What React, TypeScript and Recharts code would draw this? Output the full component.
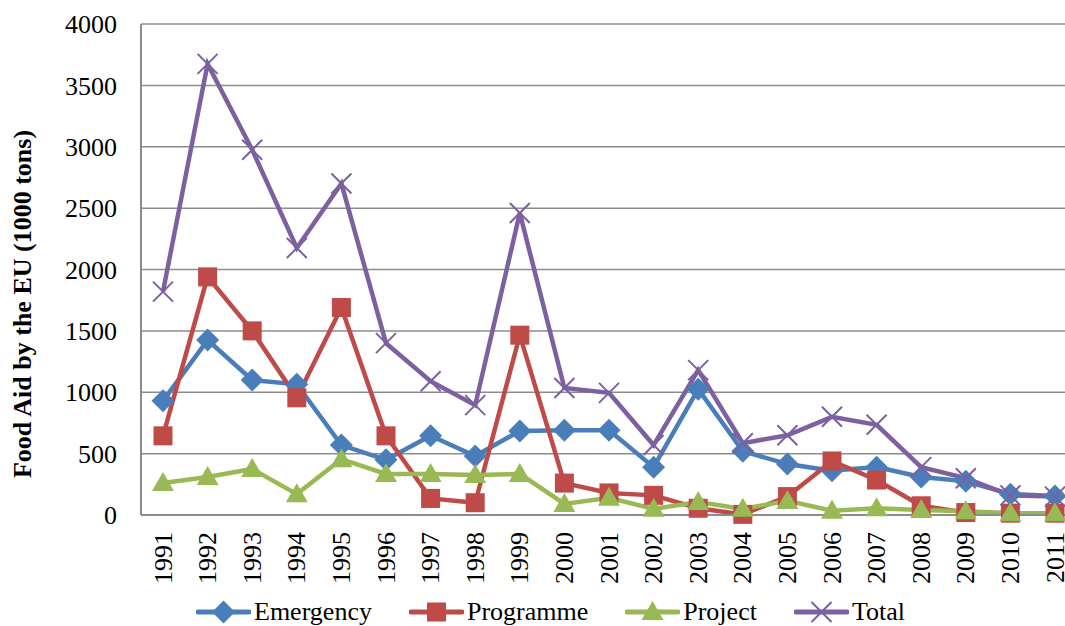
import { LineChart, Line, XAxis, YAxis, CartesianGrid, Legend } from "recharts"

const years = [
  "1991", "1992", "1993", "1994", "1995", "1996", "1997", "1998", "1999", "2000", "2001",
  "2002", "2003", "2004", "2005", "2006", "2007", "2008", "2009", "2010", "2011",
]
const emergency = [930, 1425, 1100, 1065, 570, 450, 645, 480, 685, 690, 690, 390, 1025, 520, 415, 360, 390, 310, 275, 170, 155]
const programme = [645, 1940, 1500, 955, 1690, 645, 135, 100, 1465, 260, 180, 160, 55, 5, 150, 440, 285, 75, 20, 15, 15]
const project = [260, 310, 375, 170, 455, 335, 335, 325, 335, 90, 140, 50, 105, 50, 115, 35, 55, 40, 30, 15, 15]
const total = [1820, 3675, 2975, 2175, 2700, 1400, 1090, 895, 2460, 1035, 995, 570, 1180, 585, 650, 800, 735, 390, 300, 160, 150]
const yTicks = [0, 500, 1000, 1500, 2000, 2500, 3000, 3500, 4000]

const data = years.map((year, i) => ({
  year,
  Emergency: emergency[i],
  Programme: programme[i],
  Project: project[i],
  Total: total[i],
}))

const FONT = "Liberation Serif"
const COLORS = {
  Emergency: "#4A7EBB",
  Programme: "#BE4B48",
  Project: "#98B954",
  Total: "#7D60A0",
}

type MarkerKind = "diamond" | "square" | "triangle" | "cross"

function Marker({ kind, cx, cy, color }: { kind: MarkerKind; cx: number; cy: number; color: string }) {
  if (kind === "diamond") {
    const r = 11.5
    return <path d={`M${cx},${cy - r}L${cx + r},${cy}L${cx},${cy + r}L${cx - r},${cy}Z`} fill={color} />
  }
  if (kind === "square") {
    const h = 9.5
    return <rect x={cx - h} y={cy - h} width={h * 2} height={h * 2} fill={color} />
  }
  if (kind === "triangle") {
    return <path d={`M${cx},${cy - 11}L${cx + 11},${cy + 8}L${cx - 11},${cy + 8}Z`} fill={color} />
  }
  const r = 10
  return (
    <path
      d={`M${cx - r},${cy - r}L${cx + r},${cy + r}M${cx - r},${cy + r}L${cx + r},${cy - r}`}
      stroke={color}
      strokeWidth={2}
      fill="none"
    />
  )
}

const makeDot = (kind: MarkerKind, color: string) => (p: any) => (
  <Marker key={`${kind}-${p.index}`} kind={kind} cx={p.cx} cy={p.cy} color={color} />
)

function YearTick({ x, y, payload }: any) {
  return (
    <text
      x={x}
      y={y + 9}
      transform={`rotate(-90, ${x}, ${y + 9})`}
      textAnchor="end"
      dominantBaseline="central"
      style={{ fontFamily: FONT, fontSize: 26 }}
      fill="#000"
    >
      {payload.value}
    </text>
  )
}

const legendItems: { name: keyof typeof COLORS; kind: MarkerKind }[] = [
  { name: "Emergency", kind: "diamond" },
  { name: "Programme", kind: "square" },
  { name: "Project", kind: "triangle" },
  { name: "Total", kind: "cross" },
]

function LegendContent() {
  return (
    <div
      style={{
        height: 40,
        boxSizing: "border-box",
        paddingTop: 11,
        paddingLeft: 24,
        display: "flex",
        justifyContent: "center",
        gap: 37,
        fontFamily: FONT,
        fontSize: 26,
        lineHeight: "30px",
      }}
    >
      {legendItems.map((item) => (
        <div key={item.name} style={{ display: "flex", alignItems: "center" }}>
          <svg width={55} height={26} style={{ marginRight: 3 }}>
            <line x1={2} y1={13} x2={53} y2={13} stroke={COLORS[item.name]} strokeWidth={5} strokeLinecap="round" />
            <Marker kind={item.kind} cx={27.5} cy={13} color={COLORS[item.name]} />
          </svg>
          <span>{item.name}</span>
        </div>
      ))}
    </div>
  )
}

function YTitle() {
  return (
    <text
      x={22}
      y={304}
      transform="rotate(-90, 22, 304)"
      textAnchor="middle"
      dominantBaseline="central"
      style={{ fontFamily: FONT, fontWeight: "bold", fontSize: 26 }}
      fill="#000"
    >
      Food Aid by the EU (1000 tons)
    </text>
  )
}

export default function App() {
  return (
    <div
      style={{
        position: "absolute",
        left: 0,
        top: 0,
        width: 1065,
        height: 626,
        overflow: "hidden",
        background: "#fff",
        fontFamily: FONT,
      }}
    >
      <LineChart width={1080} height={626} data={data} margin={{ top: 24, right: 3, left: 0, bottom: 0 }}>
        <CartesianGrid vertical={false} stroke="#8c8c8c" strokeWidth={1.5} />
        <XAxis
          dataKey="year"
          height={71}
          padding={{ left: 22, right: 22 }}
          stroke="#8c8c8c"
          strokeWidth={2}
          tickLine={false}
          tick={<YearTick />}
          interval={0}
        />
        <YAxis
          width={141}
          domain={[0, 4000]}
          ticks={yTicks}
          stroke="#8c8c8c"
          strokeWidth={2}
          tickLine={false}
          tickMargin={18}
          tick={{ style: { fontFamily: FONT, fontSize: 26 }, fill: "#000" }}
          label={<YTitle />}
        />
        <Legend verticalAlign="bottom" height={40} content={() => <LegendContent />} />
        <Line
          dataKey="Emergency"
          stroke={COLORS.Emergency}
          strokeWidth={4.5}
          dot={makeDot("diamond", COLORS.Emergency)}
          activeDot={false}
          isAnimationActive={false}
        />
        <Line
          dataKey="Programme"
          stroke={COLORS.Programme}
          strokeWidth={4.5}
          dot={makeDot("square", COLORS.Programme)}
          activeDot={false}
          isAnimationActive={false}
        />
        <Line
          dataKey="Project"
          stroke={COLORS.Project}
          strokeWidth={4.5}
          dot={makeDot("triangle", COLORS.Project)}
          activeDot={false}
          isAnimationActive={false}
        />
        <Line
          dataKey="Total"
          stroke={COLORS.Total}
          strokeWidth={4.5}
          dot={makeDot("cross", COLORS.Total)}
          activeDot={false}
          isAnimationActive={false}
        />
      </LineChart>
    </div>
  )
}
